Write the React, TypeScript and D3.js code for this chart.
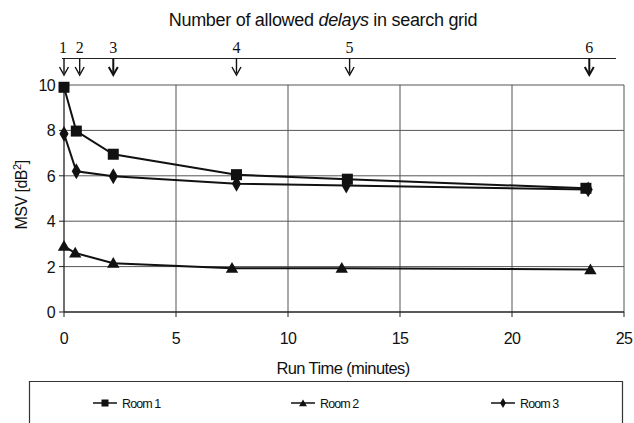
import React from "react";
import * as d3 from "d3";

const room1X = [0, 0.55, 2.2, 7.7, 12.65, 23.3];
const room1Y = [9.9, 7.97, 6.95, 6.05, 5.85, 5.45];
const room2X = [0, 0.5, 2.2, 7.5, 12.4, 23.5];
const room2Y = [2.9, 2.6, 2.15, 1.93, 1.93, 1.87];
const room3X = [0, 0.55, 2.2, 7.7, 12.6, 23.4];
const room3Y = [7.85, 6.2, 5.98, 5.65, 5.57, 5.4];
const delayLabels = ["1", "2", "3", "4", "5", "6"];
const delayTimes = [0, 0.7, 2.2, 7.7, 12.75, 23.45];
const xTicks = [0, 5, 10, 15, 20, 25];
const yTicks = [0, 2, 4, 6, 8, 10];
const seriesNames = ["Room 1", "Room 2", "Room 3"];

const W = 634, H = 423;
const L = 64, R = 624, T = 85, B = 312;

function Marker({ kind, x, y, s }: { kind: string; x: number; y: number; s: number }) {
  if (kind === "square") return <rect x={x - s / 2} y={y - s / 2} width={s} height={s} fill="#111" />;
  if (kind === "triangle") {
    const p = d3.symbol(d3.symbolTriangle, s * s * 0.55)();
    return <path d={p || ""} transform={`translate(${x},${y + 1})`} fill="#111" />;
  }
  const p = d3.symbol(d3.symbolDiamond, s * s * 0.6)();
  return <path d={p || ""} transform={`translate(${x},${y})`} fill="#111" />;
}

export default function App() {
  const x = d3.scaleLinear().domain([0, 25]).range([L, R]);
  const y = d3.scaleLinear().domain([0, 10]).range([B, T]);
  const line = d3.line<[number, number]>().x((d) => x(d[0])).y((d) => y(d[1]));
  const series = [
    { name: seriesNames[0], xs: room1X, ys: room1Y, kind: "square" },
    { name: seriesNames[1], xs: room2X, ys: room2Y, kind: "triangle" },
    { name: seriesNames[2], xs: room3X, ys: room3Y, kind: "diamond" },
  ];
  const legendX = [105, 303, 503];
  const font = "'Liberation Sans', Arial, sans-serif";
  return (
    <svg width={W} height={H} style={{ position: "absolute", left: 0, top: 0, background: "#fff" }} fontFamily={font}>
      <rect width={W} height={H} fill="#fff" />
      <text x={323} y={26} textAnchor="middle" fontSize={18} fill="#111" letterSpacing={-0.3}>
        Number of allowed <tspan fontStyle="italic">delays</tspan> in search grid
      </text>
      {/* delay arrows */}
      <line x1={62} x2={616} y1={58.5} y2={58.5} stroke="#222" strokeWidth={1.2} />
      {delayTimes.map((t, i) => (
        <g key={i}>
          <text x={x(t) + (i === 0 ? -1 : 0)} y={53} textAnchor="middle" fontSize={16} fontFamily="'Liberation Serif', 'Times New Roman', serif" fill="#111">
            {delayLabels[i]}
          </text>
          <line x1={x(t)} x2={x(t)} y1={58.5} y2={73} stroke="#111" strokeWidth={i === 5 || i === 2 ? 2 : 1.4} />
          <path d={`M${x(t) - 4.5},${67} L${x(t)},${75} L${x(t) + 4.5},${67}`} fill="none" stroke="#111" strokeWidth={i === 5 || i === 2 ? 2 : 1.4} />
        </g>
      ))}
      {/* grid */}
      {yTicks.filter((v) => v > 0).map((v) => (
        <line key={"h" + v} x1={L} x2={R} y1={y(v)} y2={y(v)} stroke="#555" strokeWidth={1} />
      ))}
      {xTicks.filter((v) => v > 0).map((v) => (
        <line key={"v" + v} x1={x(v)} x2={x(v)} y1={T} y2={B} stroke="#555" strokeWidth={1} />
      ))}
      {/* axes */}
      <line x1={L} x2={L} y1={T} y2={B} stroke="#222" strokeWidth={1.3} />
      <line x1={L} x2={R} y1={B} y2={B} stroke="#222" strokeWidth={1.3} />
      {yTicks.map((v) => (
        <g key={"yt" + v}>
          <line x1={L - 5} x2={L} y1={y(v)} y2={y(v)} stroke="#222" />
          <text x={55} y={y(v) + 6} textAnchor="end" fontSize={16} fill="#111" letterSpacing={-0.6}>{v}</text>
        </g>
      ))}
      {xTicks.map((v) => (
        <g key={"xt" + v}>
          <line x1={x(v)} x2={x(v)} y1={B} y2={B + 5} stroke="#222" />
          <text x={x(v)} y={344} textAnchor="middle" fontSize={16} fill="#111" letterSpacing={-0.6}>{v}</text>
        </g>
      ))}
      <text x={343} y={374} textAnchor="middle" fontSize={16.5} fill="#111" letterSpacing={-0.6}>Run Time (minutes)</text>
      <text transform={`translate(27,${195}) rotate(-90)`} textAnchor="middle" fontSize={16} fill="#111" letterSpacing={-0.5}>
        MSV [dB<tspan fontSize={11} dy={-6}>2</tspan><tspan dy={6}>]</tspan>
      </text>
      {/* series */}
      {series.map((s) => {
        const pts = s.xs.map((v, i) => [v, s.ys[i]] as [number, number]);
        return (
          <g key={s.name}>
            <path d={line(pts) || ""} fill="none" stroke="#111" strokeWidth={2} />
            {pts.map((p, i) => (
              <Marker key={i} kind={s.kind} x={x(p[0])} y={y(p[1])} s={11} />
            ))}
          </g>
        );
      })}
      {/* legend */}
      <path d={`M29.5,${H} L29.5,381.5 L622.5,381.5 L622.5,${H}`} fill="none" stroke="#333" strokeWidth={1.2} />
      {series.map((s, i) => (
        <g key={"lg" + i}>
          <line x1={legendX[i] - 12} x2={legendX[i] + 12} y1={403} y2={403} stroke="#111" strokeWidth={1.5} />
          <Marker kind={s.kind} x={legendX[i]} y={403} s={7} />
          <text x={legendX[i] + 17} y={407.5} fontSize={12.5} fill="#111" letterSpacing={-0.9}>{s.name}</text>
        </g>
      ))}
    </svg>
  );
}
